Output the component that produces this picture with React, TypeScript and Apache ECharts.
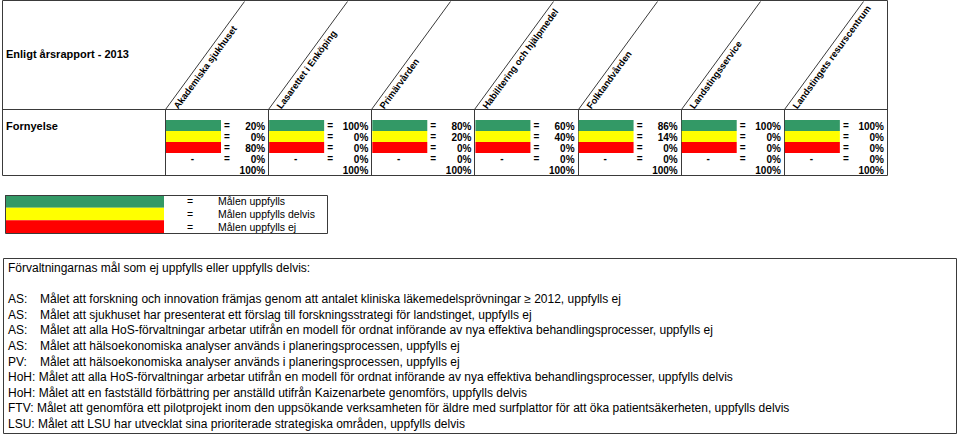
import React, { useEffect, useRef } from "react";
import * as echarts from "echarts";

// ---- data ----
const units = [
  "Akademiska sjukhuset",
  "Lasarettet i Enköping",
  "Primärvården",
  "Habilitering och hjälpmedel",
  "Folktandvården",
  "Landstingsservice",
  "Landstingets resurscentrum",
];
const greenPct = [20, 100, 80, 60, 86, 100, 100];
const yellowPct = [0, 0, 20, 40, 14, 0, 0];
const redPct = [80, 0, 0, 0, 0, 0, 0];
const nonePct = [0, 0, 0, 0, 0, 0, 0];
const totalPct = [100, 100, 100, 100, 100, 100, 100];
const rowKeys = ["blank", "green", "yellow", "red", "none", "total"];

const tableTitle = "Enligt årsrapport - 2013";
const rowTitle = "Fornyelse";
const legendLabels = ["Målen uppfylls", "Målen uppfylls delvis", "Målen uppfylls ej"];

const goalsTitle = "Förvaltningarnas mål som ej uppfylls eller uppfylls delvis:";
const goalCodes = ["AS:", "AS:", "AS:", "AS:", "PV:", "HoH:", "HoH:", "FTV:", "LSU:"];
const goalTexts = [
  "Målet att forskning och innovation främjas genom att antalet kliniska läkemedelsprövningar ≥ 2012, uppfylls ej",
  "Målet att sjukhuset har presenterat ett förslag till forskningsstrategi för landstinget, uppfylls ej",
  "Målet att alla HoS-förvaltningar arbetar utifrån en modell för ordnat införande av nya effektiva behandlingsprocesser, uppfylls ej",
  "Målet att hälsoekonomiska analyser används i planeringsprocessen, uppfylls ej",
  "Målet att hälsoekonomiska analyser används i planeringsprocessen, uppfylls ej",
  "Målet att alla HoS-förvaltningar arbetar utifrån en modell för ordnat införande av nya effektiva behandlingsprocesser, uppfylls delvis",
  "Målet att en fastställd förbättring per anställd utifrån Kaizenarbete genomförs, uppfylls delvis",
  "Målet att genomföra ett pilotprojekt inom den uppsökande verksamheten för äldre med surfplattor för att öka patientsäkerheten, uppfylls delvis",
  "Målet att LSU har utvecklat sina prioriterade strategiska områden, uppfylls delvis",
];

// ---- style ----
const FONT = '"Liberation Sans", Arial, sans-serif';
const COLORS = ["#339966", "#FFFF00", "#FF0000"];
const LINE = "#3a3a3a";
const BAR_W = 55;
const HEADER_H = 108;
const DIAG_DX = 79;
const ANGLE = Math.atan2(HEADER_H, DIAG_DX);

function txt(x: number, y: number, text: string, opts: any = {}) {
  const align = opts.align || "left";
  const va = opts.va || "middle";
  return {
    type: "text",
    x,
    y,
    rotation: opts.rotation || 0,
    style: {
      text,
      fill: opts.fill || "#000",
      fontSize: opts.size || 10,
      fontWeight: opts.weight || "normal",
      fontFamily: FONT,
      align,
      verticalAlign: va,
      textAlign: align,
      textVerticalAlign: va,
    },
  };
}

export default function App() {
  const ref = useRef<HTMLDivElement>(null);
  useEffect(() => {
    if (!ref.current) return;
    const chart = echarts.init(ref.current, null, { renderer: "svg" });

    const cellData: number[][] = [];
    const rowsVals = [greenPct, yellowPct, redPct, nonePct, totalPct];
    units.forEach((_, i) => {
      rowsVals.forEach((arr, k) => cellData.push([i, k + 1, arr[i]]));
    });
    const headerData = units.map((_, i) => [i, 0]);

    const renderHeader = (params: any, api: any) => {
      const i = api.value(0);
      const c = api.coord([i, 0]);
      const s = api.size([1, 1]);
      const left = Math.round(c[0] - s[0] / 2) + 0.5;
      const top = Math.round(c[1] - s[1] / 2) + 0.5;
      const bottom = top + s[1] * rowKeys.length;
      return {
        type: "group",
        children: [
          { type: "line", shape: { x1: left, y1: top, x2: left, y2: bottom }, style: { stroke: LINE, lineWidth: 1 } },
          { type: "line", shape: { x1: left, y1: top, x2: left + DIAG_DX, y2: top - HEADER_H }, style: { stroke: LINE, lineWidth: 1 } },
          txt(left + 14, top + 1, units[i], { size: 9.3, weight: "bold", rotation: ANGLE, va: "bottom" }),
        ],
      };
    };

    const renderCell = (params: any, api: any) => {
      const i = api.value(0);
      const r = api.value(1);
      const v = api.value(2);
      const c = api.coord([i, r]);
      const s = api.size([1, 1]);
      const left = c[0] - s[0] / 2;
      const right = c[0] + s[0] / 2;
      const top = c[1] - s[1] / 2;
      const children: any[] = [];
      if (r >= 1 && r <= 3) {
        children.push({
          type: "rect",
          shape: { x: left + 1, y: top, width: BAR_W, height: s[1] },
          style: { fill: COLORS[r - 1] },
        });
      }
      if (r === 4) children.push(txt(left + BAR_W / 2, c[1], "-", { size: 10, weight: "bold", align: "center" }));
      if (r <= 4) children.push(txt(left + BAR_W + 7, c[1], "=", { size: 10, weight: "bold", align: "center" }));
      children.push(txt(right - 3, c[1] + 0.5, v + "%", { size: 10, weight: "bold", align: "right" }));
      return { type: "group", children };
    };

    const graphics: any[] = [];
    // table frame
    graphics.push({ type: "rect", shape: { x: 2.5, y: 0.5, width: 885, height: 175 }, style: { fill: "none", stroke: LINE, lineWidth: 1 } });
    graphics.push({ type: "line", shape: { x1: 2.5, y1: 109.5, x2: 887.5, y2: 109.5 }, style: { stroke: LINE, lineWidth: 1 } });
    graphics.push(txt(6, 54, tableTitle, { size: 11, weight: "bold" }));
    graphics.push(txt(6, 126, rowTitle, { size: 11, weight: "bold" }));

    // legend
    const legH = 38 / 3;
    legendLabels.forEach((lab, k) => {
      graphics.push({ type: "rect", shape: { x: 5, y: 195 + k * legH, width: 159, height: legH }, style: { fill: COLORS[k] } });
      graphics.push(txt(190, 195 + (k + 0.5) * legH, "=", { size: 10.5, align: "center" }));
      graphics.push(txt(218, 195 + (k + 0.5) * legH, lab, { size: 10.5 }));
    });
    graphics.push({ type: "rect", shape: { x: 5.5, y: 195.5, width: 322, height: 38 }, style: { fill: "none", stroke: LINE, lineWidth: 1 } });

    // goals box
    graphics.push({ type: "rect", shape: { x: 3.5, y: 258.5, width: 953, height: 175 }, style: { fill: "none", stroke: LINE, lineWidth: 1 } });
    const lh = 15.6;
    graphics.push(txt(8, 268, goalsTitle, { size: 12 }));
    goalCodes.forEach((code, k) => {
      const y = 268 + (k + 2) * lh;
      if (code.length <= 3) {
        graphics.push(txt(8, y, code, { size: 12 }));
        graphics.push(txt(40, y, goalTexts[k], { size: 12 }));
      } else {
        graphics.push(txt(8, y, code + " " + goalTexts[k], { size: 12 }));
      }
    });

    chart.setOption({
      animation: false,
      grid: { left: 165, top: 109, width: 722, height: 66, containLabel: false },
      xAxis: { type: "category", data: units, show: false },
      yAxis: { type: "category", data: rowKeys, inverse: true, show: false },
      graphic: graphics,
      series: [
        { type: "custom", name: "header", renderItem: renderHeader, data: headerData, clip: false, silent: true },
        { type: "custom", name: "cells", renderItem: renderCell, data: cellData, clip: false, silent: true },
      ],
    });
    return () => chart.dispose();
  }, []);
  return (
    <div
      ref={ref}
      style={{ position: "fixed", left: 0, top: 0, width: 960, height: 435, background: "#fff" }}
    />
  );
}
